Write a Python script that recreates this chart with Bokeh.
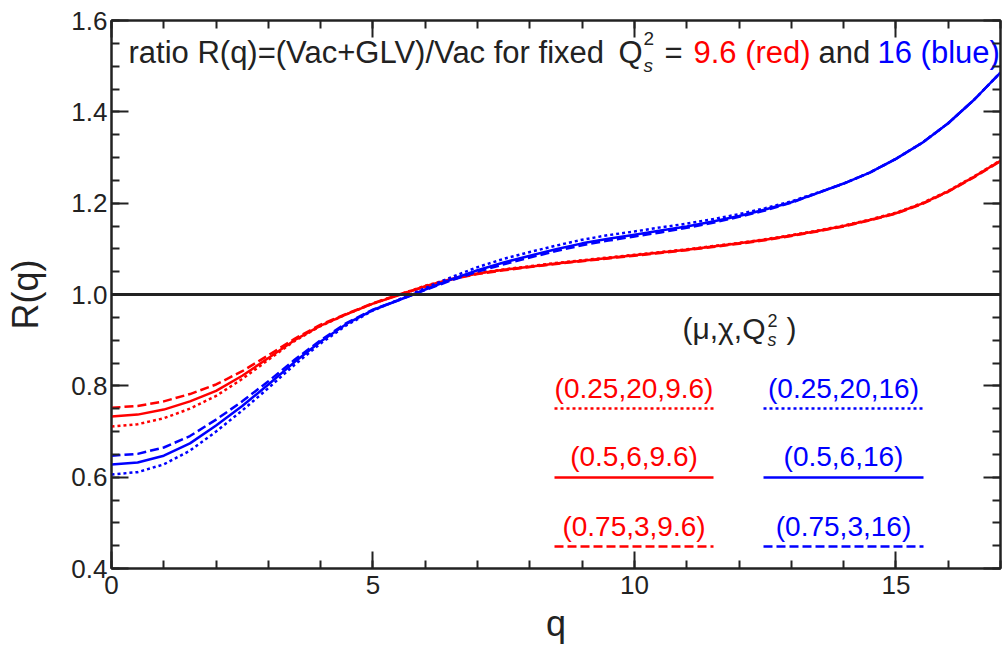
from bokeh.plotting import figure
from bokeh.models import (Range1d, LinearAxis, Span, SingleIntervalTicker,
                          CustomJSTickFormatter, PrintfTickFormatter)
from bokeh.core.properties import value
from bokeh.embed import file_html
from bokeh.resources import INLINE

# ---------------- data ----------------
q = [0.0, 0.5, 1.0, 1.5, 2.0, 2.5, 3.0, 3.5, 4.0, 4.5, 5.0, 5.5, 6.0, 6.5, 7.0, 7.5, 8.0, 8.5,
     9.0, 9.5, 10.0, 10.5, 11.0, 11.5, 12.0, 12.5, 13.0, 13.5, 14.0, 14.5, 15.0, 15.5, 16.0, 16.5, 17.0]

# Q_s^2 = 9.6 (red)
red_dotted = [0.711, 0.716, 0.729, 0.750, 0.778, 0.815, 0.857, 0.898, 0.931, 0.957, 0.980, 1.000,
              1.019, 1.035, 1.047, 1.055, 1.062, 1.069, 1.075, 1.081, 1.087, 1.093, 1.099, 1.106,
              1.113, 1.121, 1.130, 1.140, 1.151, 1.164, 1.179, 1.200, 1.227, 1.259, 1.294]
red_solid = [0.733, 0.737, 0.748, 0.766, 0.789, 0.822, 0.861, 0.900, 0.932, 0.957, 0.980, 0.999,
             1.018, 1.034, 1.046, 1.054, 1.061, 1.068, 1.074, 1.080, 1.086, 1.092, 1.098, 1.105,
             1.112, 1.120, 1.129, 1.139, 1.150, 1.163, 1.178, 1.199, 1.226, 1.258, 1.293]
red_dashed = [0.752, 0.756, 0.766, 0.782, 0.803, 0.832, 0.867, 0.903, 0.934, 0.958, 0.981, 1.000,
              1.017, 1.033, 1.045, 1.053, 1.060, 1.067, 1.073, 1.079, 1.085, 1.091, 1.097, 1.104,
              1.111, 1.119, 1.128, 1.138, 1.149, 1.162, 1.177, 1.198, 1.225, 1.257, 1.292]

# Q_s^2 = 16 (blue)
blue_dotted = [0.606, 0.611, 0.628, 0.658, 0.700, 0.746, 0.795, 0.846, 0.893, 0.933, 0.965, 0.989,
               1.014, 1.038, 1.060, 1.078, 1.093, 1.107, 1.120, 1.130, 1.138, 1.147, 1.155, 1.165,
               1.176, 1.189, 1.204, 1.223, 1.243, 1.267, 1.297, 1.332, 1.375, 1.427, 1.486]
blue_solid = [0.628, 0.632, 0.647, 0.674, 0.713, 0.756, 0.803, 0.852, 0.897, 0.936, 0.966, 0.988,
              1.011, 1.033, 1.053, 1.070, 1.085, 1.099, 1.112, 1.122, 1.131, 1.140, 1.149, 1.160,
              1.172, 1.186, 1.202, 1.222, 1.243, 1.267, 1.297, 1.332, 1.375, 1.427, 1.486]
blue_dashed = [0.647, 0.651, 0.665, 0.690, 0.726, 0.766, 0.810, 0.857, 0.900, 0.938, 0.967, 0.988,
               1.010, 1.031, 1.050, 1.066, 1.081, 1.095, 1.108, 1.118, 1.127, 1.136, 1.146, 1.157,
               1.170, 1.184, 1.201, 1.222, 1.243, 1.267, 1.297, 1.332, 1.375, 1.427, 1.486]

red_labels = ["(0.25,20,9.6)", "(0.5,6,9.6)", "(0.75,3,9.6)"]
blue_labels = ["(0.25,20,16)", "(0.5,6,16)", "(0.75,3,16)"]
styles = ["dotted", "solid", "dashed"]
x_ticks_interval = 5
y_ticks_interval = 0.2

# ---------------- styling / layout ----------------
FONT = "Liberation Sans"
INK = "#222222"
RED = "#ff0000"
BLUE = "#0000ff"
DASH = {"solid": "solid", "dotted": "3 3", "dashed": "9 4"}
BASELINE_FIX = 0.33   # fraction of font size the rendered baseline sits below the anchor

# frame geometry (pixels) used to place annotations
FX0, FX1, FY0, FY1 = 111, 1000, 20, 568
XMIN, XMAX, YMIN, YMAX = 0.0, 17.0, 0.4, 1.6


def dx(px):
    return XMIN + (px - FX0) * (XMAX - XMIN) / (FX1 - FX0)


def dy(py):
    return YMIN + (FY1 - py) * (YMAX - YMIN) / (FY1 - FY0)


p = figure(width=1003, height=655, output_backend="svg", toolbar_location=None,
           x_range=Range1d(XMIN, XMAX), y_range=Range1d(YMIN, YMAX),
           min_border_left=FX0, min_border_right=1003 - FX1,
           min_border_top=FY0, min_border_bottom=655 - FY1)
p.grid.visible = False
p.outline_line_color = INK
p.outline_line_width = 2
p.background_fill_color = "white"
p.border_fill_color = "white"


def style_axis(ax, labels=True):
    ax.axis_line_color = INK
    ax.axis_line_width = 2
    ax.major_tick_line_color = INK
    ax.minor_tick_line_color = INK
    ax.major_tick_line_width = 2
    ax.minor_tick_line_width = 2
    ax.major_tick_in = 17
    ax.major_tick_out = 0
    ax.minor_tick_in = 8
    ax.minor_tick_out = 0
    if labels:
        ax.major_label_text_font = FONT
        ax.major_label_text_font_size = "26px"
        ax.major_label_text_color = INK
        ax.axis_label_text_font = FONT
        ax.axis_label_text_font_size = "36px"
        ax.axis_label_text_font_style = "normal"
        ax.axis_label_text_color = INK


p.xaxis.ticker = SingleIntervalTicker(interval=x_ticks_interval, num_minor_ticks=5)
p.yaxis.ticker = SingleIntervalTicker(interval=y_ticks_interval, num_minor_ticks=4)
p.yaxis.formatter = PrintfTickFormatter(format="%.1f")
for ax in p.xaxis + p.yaxis:
    style_axis(ax)
p.xaxis.axis_label = "q"
p.yaxis.axis_label = "R(q)"
p.xaxis.major_label_standoff = 7
p.yaxis.major_label_standoff = 4
p.xaxis.axis_label_standoff = 6
p.yaxis.axis_label_standoff = 22

blank = CustomJSTickFormatter(code="return ''")
top = LinearAxis(ticker=SingleIntervalTicker(interval=x_ticks_interval, num_minor_ticks=5),
                 formatter=blank, major_label_text_font_size="0px", major_label_standoff=0)
right = LinearAxis(ticker=SingleIntervalTicker(interval=y_ticks_interval, num_minor_ticks=4),
                   formatter=blank, major_label_text_font_size="0px", major_label_standoff=0)
style_axis(top, labels=False)
style_axis(right, labels=False)
p.add_layout(top, "above")
p.add_layout(right, "right")

# reference line R = 1
p.add_layout(Span(location=1.0, dimension="width", line_color=INK, line_width=3))

# curves
for ys, st in zip([red_dotted, red_solid, red_dashed], styles):
    p.line(q, ys, line_color=RED, line_width=2.5, line_dash=DASH[st], line_join="round")
for ys, st in zip([blue_dotted, blue_solid, blue_dashed], styles):
    p.line(q, ys, line_color=BLUE, line_width=2.5, line_dash=DASH[st], line_join="round")


def lab(text, px, py, size, color=INK, align="left", style="normal"):
    fs = float(size.replace("px", ""))
    p.text(x=[dx(px)], y=[dy(py - BASELINE_FIX * fs)], text=[text], text_font=value(FONT),
           text_font_size=value(size), text_color=color, text_align=align,
           text_baseline="alphabetic", text_font_style=style)


# header text
lab("ratio R(q)=(Vac+GLV)/Vac for fixed", 128, 62, "31px")
lab("Q", 618, 62, "31px")
lab("2", 643, 44, "19px")
lab("s", 643, 71, "19px", style="italic")
lab("=", 664, 62, "31px")
lab("9.6 (red)", 693, 62, "31px", color=RED)
lab("and", 818, 62, "31px")
lab("16 (blue)", 877, 62, "31px", color=BLUE)

# legend
lab("(\u03bc,\u03c7,Q", 682, 338, "30px")
lab("2", 767, 326, "18px")
lab("s", 767, 345, "18px", style="italic")
lab(")", 786, 338, "30px")

row_text_y = [397, 465, 535]
row_line_y = [408, 477, 546]
red_span = (554, 713)
blue_span = (763, 923)
for i, st in enumerate(styles):
    lab(red_labels[i], (red_span[0] + red_span[1]) / 2, row_text_y[i], "28px", color=RED, align="center")
    lab(blue_labels[i], (blue_span[0] + blue_span[1]) / 2, row_text_y[i], "28px", color=BLUE, align="center")
    p.line([dx(red_span[0]), dx(red_span[1])], [dy(row_line_y[i])] * 2,
           line_color=RED, line_width=2.5, line_dash=DASH[st])
    p.line([dx(blue_span[0]), dx(blue_span[1])], [dy(row_line_y[i])] * 2,
           line_color=BLUE, line_width=2.5, line_dash=DASH[st])

open("out.html", "w").write(file_html(p, INLINE))
